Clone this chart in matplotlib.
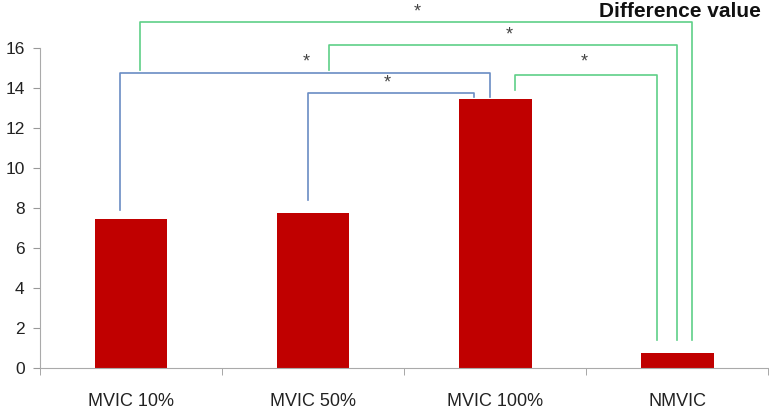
import matplotlib
matplotlib.use("Agg")
import matplotlib.pyplot as plt

# dados do gráfico
categorias = ["MVIC 10%", "MVIC 50%", "MVIC 100%", "NMVIC"]
valores = [7.45, 7.75, 13.45, 0.75]
yticks = [0, 2, 4, 6, 8, 10, 12, 14, 16]

# colchetes de significância: (x_esq, y_esq, x_dir, y_dir, y_topo, cor)
colchetes = [
    (-0.06, 7.9, 1.97, 13.55, 14.75, "#6a8cc4"),
    (0.97, 8.4, 1.885, 13.55, 13.75, "#6a8cc4"),
    (2.11, 13.9, 2.89, 1.4, 14.65, "#5fcf88"),
    (1.09, 14.9, 3.0, 1.4, 16.15, "#5fcf88"),
    (0.05, 14.9, 3.08, 1.4, 17.3, "#5fcf88"),
]
estrelas_x = [0.96, 1.41, 2.49, 2.08, 1.57]
estrelas_y = [15.3, 14.25, 15.3, 16.65, 17.8]

plt.rcParams['font.family'] = ['Liberation Sans', 'DejaVu Sans']

fig = plt.figure(figsize=(7.69, 4.13), dpi=100)
ax = fig.add_axes([0.052, 0.109, 0.947, 0.775])

x = range(len(categorias))
ax.bar(x, valores, width=0.4, color="#c00000", zorder=2)

for xe, ye, xd, yd, yt, cor in colchetes:
    ax.plot([xe, xe, xd, xd], [ye, yt, yt, yd], color=cor, lw=1.2,
            clip_on=False, zorder=3)

for xs, ys in zip(estrelas_x, estrelas_y):
    ax.text(xs, ys, "*", ha="center", va="center", fontsize=13,
            color="#444444", clip_on=False)

ax.set_xlim(-0.5, 3.5)
ax.set_ylim(0, 16)
ax.set_yticks(yticks)
ax.set_xticks(list(x))
ax.set_xticklabels(categorias)
ax.set_xticks([-0.5, 0.5, 1.5, 2.5, 3.5], minor=True)
ax.tick_params(axis="x", which="major", length=0, pad=18, labelsize=13,
               labelcolor="#222222")
ax.tick_params(axis="x", which="minor", length=5, color="#999999")
ax.tick_params(axis="y", length=5, color="#999999", labelsize=12.5,
               labelcolor="#222222", pad=6)

for lado in ["top", "right"]:
    ax.spines[lado].set_visible(False)
for lado in ["left", "bottom"]:
    ax.spines[lado].set_color("#aaaaaa")

fig.text(0.99, 0.995, "Difference value", ha="right", va="top",
         fontsize=15, fontweight="bold", color="#111111")

fig.savefig("out.png", dpi=100)
